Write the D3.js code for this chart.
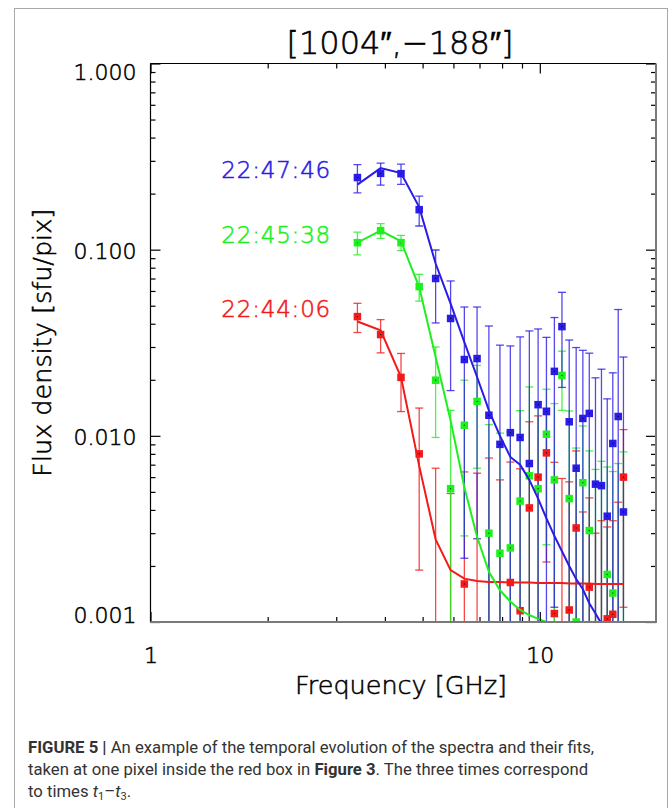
<!DOCTYPE html>
<html>
<head>
<meta charset="utf-8">
<script src="https://cdn.jsdelivr.net/npm/d3@7"></script>
<style>
  body { margin: 0; background: #fff; }
  .plot text { font-family: "DejaVu Sans", sans-serif; font-weight: 200; fill: #000; stroke: #000; stroke-width: 0.55; }
  .caption text { font-family: Roboto, "Liberation Sans", sans-serif; fill: #333; }
</style>
</head>
<body>
<div id="chart"></div>
<script>
// Channel frequencies (GHz)
const freqs = [3.4, 3.9, 4.4, 4.9, 5.4, 5.9, 6.4, 6.9, 7.4, 7.9, 8.4, 8.9, 9.4, 9.9,
    10.4, 10.9, 11.4, 11.9, 12.4, 12.9, 13.4, 13.9, 14.4, 14.9, 15.4, 15.9, 16.4];

const times = ["22:44:06", "22:45:38", "22:47:46"];
const colors = ["#f21a1a", "#1ef01e", "#2a1be6"];

// 22:44:06
const fluxRed = [0.0437, 0.035, 0.0206, 0.0080, 0.0006, 0.0006, 0.0016, 0.0006, 0.0006, 0.0006,
    0.00163, 0.00115, 0.0041, 0.0060, 0.0081, 0.00111, 0.0006, 0.00116, 0.0032, 0.0006,
    0.00154, 0.0006, 0.0006, 0.00104, 0.0011, 0.0006, 0.0060];
const errRed = [0.0078, 0.0071, 0.0071, 0.0061, 0.0061, 0.0043, 0.0048, 0.0057, 0.0070, 0.0052,
    0.0056, 0.0055, 0.0078, 0.0068, 0.0060, 0.0061, 0.0053, 0.0045, 0.0051, 0.0033,
    0.0031, 0.0024, 0.0029, 0.0022, 0.0024, 0.0038, 0.0048];
const fitRed = [0.0411, 0.0369, 0.0207, 0.0069, 0.00278, 0.0019, 0.00171, 0.00166, 0.00164, 0.00164,
    0.00163, 0.00163, 0.00163, 0.00162, 0.00162, 0.00162, 0.00162, 0.00161, 0.00161, 0.00161,
    0.00161, 0.0016, 0.0016, 0.0016, 0.0016, 0.0016, 0.0016];

// 22:45:38
const fluxGreen = [0.109, 0.1265, 0.109, 0.0633, 0.0199, 0.0052, 0.0114, 0.0153, 0.0030, 0.00234,
    0.0025, 0.00446, 0.0061, 0.0052, 0.0102, 0.0058, 0.0211, 0.0046, 0.0010, 0.0056,
    0.0031, 0.0006, 0.0006, 0.0018, 0.00143, 0.0007, 0.0008];
const errGreen = [0.0152, 0.0115, 0.0103, 0.0104, 0.0101, 0.0085, 0.0085, 0.0086, 0.0085, 0.0080,
    0.0080, 0.0092, 0.0122, 0.0100, 0.0076, 0.0091, 0.0074, 0.0090, 0.0076, 0.0057,
    0.0052, 0.0060, 0.0067, 0.0050, 0.0050, 0.0064, 0.0074];
const fitGreen = [0.1091, 0.1265, 0.1109, 0.0630, 0.0265, 0.0121, 0.0053, 0.00287, 0.00186, 0.00148,
    0.00129, 0.00116, 0.00109, 0.00104, 0.0010, 0.00097, 0.00094, 0.00091, 0.00088, 0.00085,
    0.00082, 0.0008, 0.00078, 0.00076, 0.00074, 0.00072, 0.0007];

// 22:47:46
const fluxBlue = [0.244, 0.257, 0.256, 0.164, 0.070, 0.0427, 0.0257, 0.026, 0.0129, 0.0090,
    0.0104, 0.0098, 0.0071, 0.0147, 0.0135, 0.0222, 0.0386, 0.0119, 0.0067, 0.0124,
    0.0132, 0.0055, 0.0054, 0.0037, 0.0091, 0.0127, 0.0039];
const errBlue = [0.042, 0.035, 0.032, 0.030, 0.0296, 0.0252, 0.0235, 0.0232, 0.026, 0.0217,
    0.020, 0.0242, 0.0295, 0.0228, 0.0203, 0.021, 0.0204, 0.0208, 0.0231, 0.0164,
    0.0146, 0.015, 0.0174, 0.0121, 0.0127, 0.035, 0.0226];
const fitBlue = [0.2234, 0.2742, 0.2578, 0.1693, 0.0843, 0.0513, 0.0319, 0.0207, 0.0137, 0.0100,
    0.0077, 0.0070, 0.0058, 0.0046, 0.0036, 0.0029, 0.0024, 0.0020, 0.0017, 0.0015,
    0.00126, 0.00111, 0.00098, 0.00087, 0.00077, 0.00068, 0.0006];

const xMajor = [1, 10];
const yMajor = [0.001, 0.01, 0.1, 1];

const titleText = "[1004\u2033,\u2212188\u2033]";
const xTitle = "Frequency [GHz]";
const yTitle = "Flux density [sfu/pix]";

const plot = { left: 150.5, right: 657, top: 63.5, bottom: 622 };

const svg = d3.select("#chart")
    .append("svg")
    .attr("width", 672)
    .attr("height", 808);

// Figure frame
svg.append("rect")
    .attr("x", 14.5).attr("y", 8.5)
    .attr("width", 653).attr("height", 820)
    .attr("fill", "none")
    .attr("stroke", "#a8a8a8");

const g = svg.append("g").attr("class", "plot");

// Scales
const x = d3.scaleLog().domain([1, 20]).range([plot.left, plot.right]);
const y = d3.scaleLog().domain([0.001, 1]).range([plot.bottom, plot.top]);

const xMinor = x.ticks().filter(d => !xMajor.includes(d) && d < 20);
const yMinor = y.ticks().filter(d => !yMajor.some(m => Math.abs(m - d) < 1e-9));

svg.append("clipPath").attr("id", "clip")
    .append("rect")
    .attr("x", plot.left).attr("y", plot.top)
    .attr("width", 656 - plot.left).attr("height", plot.bottom - plot.top);

const series = [
    { name: times[0], color: colors[0], flux: fluxRed, err: errRed, fit: fitRed },
    { name: times[1], color: colors[1], flux: fluxGreen, err: errGreen, fit: fitGreen },
    { name: times[2], color: colors[2], flux: fluxBlue, err: errBlue, fit: fitBlue }
];

const data = g.append("g").attr("clip-path", "url(#clip)");

// Error bars
series.forEach(s => {
    const bars = data.append("g")
        .attr("stroke", s.color)
        .attr("stroke-width", 1.3)
        .attr("stroke-opacity", 0.8);
    s.flux.forEach((v, i) => {
        const fx = x(freqs[i]);
        const hi = y(v + s.err[i]);
        const low = v - s.err[i];
        const lo = low > 0 ? y(low) : plot.bottom + 10;
        bars.append("line").attr("x1", fx).attr("x2", fx).attr("y1", hi).attr("y2", lo);
        bars.append("line").attr("x1", fx - 4).attr("x2", fx + 4).attr("y1", hi).attr("y2", hi);
        if (low > 0) {
            bars.append("line").attr("x1", fx - 4).attr("x2", fx + 4).attr("y1", lo).attr("y2", lo);
        }
    });
});

// Data squares
series.forEach(s => {
    const pts = data.append("g");
    pts.selectAll("rect.sq")
        .data(s.flux)
        .join("rect")
        .attr("class", "sq")
        .attr("x", (d, i) => x(freqs[i]) - 3.75)
        .attr("y", d => y(d) - 3.75)
        .attr("width", 7.5)
        .attr("height", 7.5)
        .attr("fill", s.color);
    pts.selectAll("rect.dot")
        .data(s.flux)
        .join("rect")
        .attr("class", "dot")
        .attr("x", (d, i) => x(freqs[i]) - 0.5)
        .attr("y", d => y(d) - 0.5)
        .attr("width", 1)
        .attr("height", 1)
        .attr("fill", "#000");
});

// Fits
const line = d3.line()
    .x((d, i) => x(freqs[i]))
    .y(d => y(d));

series.forEach(s => {
    data.append("path")
        .datum(s.fit)
        .attr("d", line)
        .attr("fill", "none")
        .attr("stroke", s.color)
        .attr("stroke-width", 2);
});

// Time labels
series.forEach(s => {
    g.append("text")
        .attr("x", 331)
        .attr("y", y(s.flux[0]))
        .attr("text-anchor", "end")
        .attr("font-size", 23)
        .attr("letter-spacing", 0.8)
        .style("fill", s.color)
        .style("stroke", s.color)
        .text(s.name);
});

// Axes
const styleAxis = sel => {
    sel.select(".domain").remove();
    sel.selectAll(".tick line").attr("stroke", "#000").attr("stroke-width", 1.2);
    sel.selectAll(".tick text").attr("font-size", 22).attr("font-family", null);
};

g.append("g")
    .attr("transform", `translate(0,${plot.bottom})`)
    .call(d3.axisBottom(x).tickValues(xMajor).tickFormat(d3.format("d"))
        .tickSize(-10).tickSizeOuter(0).tickPadding(25))
    .call(styleAxis);
g.append("g")
    .attr("transform", `translate(0,${plot.bottom})`)
    .call(d3.axisBottom(x).tickValues(xMinor).tickFormat("").tickSize(-5).tickSizeOuter(0))
    .call(styleAxis);
g.append("g")
    .attr("transform", `translate(0,${plot.top})`)
    .call(d3.axisTop(x).tickValues(xMajor).tickFormat("").tickSize(-10).tickSizeOuter(0))
    .call(styleAxis);
g.append("g")
    .attr("transform", `translate(0,${plot.top})`)
    .call(d3.axisTop(x).tickValues(xMinor).tickFormat("").tickSize(-5).tickSizeOuter(0))
    .call(styleAxis);

const yAxis = g.append("g")
    .attr("transform", `translate(${plot.left},0)`)
    .call(d3.axisLeft(y).tickValues(yMajor).tickFormat(d3.format(".3f"))
        .tickSize(-10).tickSizeOuter(0).tickPadding(14))
    .call(styleAxis);
// keep the end labels inside the axis span, as in the original
yAxis.selectAll(".tick text")
    .attr("dy", d => d === 1 ? "0.72em" : d === 0.001 ? "0em" : "0.4em");

g.append("g")
    .attr("transform", `translate(${plot.left},0)`)
    .call(d3.axisLeft(y).tickValues(yMinor).tickFormat("").tickSize(-5).tickSizeOuter(0))
    .call(styleAxis);
g.append("g")
    .attr("transform", "translate(656,0)")
    .call(d3.axisRight(y).tickValues(yMajor).tickFormat("").tickSize(-10).tickSizeOuter(0))
    .call(styleAxis);
g.append("g")
    .attr("transform", "translate(656,0)")
    .call(d3.axisRight(y).tickValues(yMinor).tickFormat("").tickSize(-5).tickSizeOuter(0))
    .call(styleAxis);

// Plot box
g.append("line").attr("x1", plot.left).attr("x2", 656).attr("y1", plot.top).attr("y2", plot.top)
    .attr("stroke", "#000").attr("stroke-width", 1.2);
g.append("line").attr("x1", plot.left).attr("x2", plot.left).attr("y1", plot.top).attr("y2", plot.bottom)
    .attr("stroke", "#000").attr("stroke-width", 1.2);
g.append("line").attr("x1", plot.left).attr("x2", 657).attr("y1", plot.bottom).attr("y2", plot.bottom)
    .attr("stroke", "#7a7a7a").attr("stroke-width", 2);
g.append("line").attr("x1", 656).attr("x2", 656).attr("y1", plot.top).attr("y2", plot.bottom)
    .attr("stroke", "#7a7a7a").attr("stroke-width", 2);

// Titles
g.append("text")
    .attr("x", 400).attr("y", 54)
    .attr("text-anchor", "middle")
    .attr("font-size", 32)
    .text(titleText);

g.append("text")
    .attr("x", 401).attr("y", 694)
    .attr("text-anchor", "middle")
    .attr("font-size", 25.5)
    .text(xTitle);

g.append("text")
    .attr("transform", `translate(51,${(plot.top + plot.bottom) / 2}) rotate(-90)`)
    .attr("text-anchor", "middle")
    .attr("font-size", 25.5)
    .text(yTitle);

// Caption
const cap = svg.append("g").attr("class", "caption").attr("font-size", 16.7);

const l1 = cap.append("text").attr("x", 28).attr("y", 753);
l1.append("tspan").attr("font-weight", "bold").text("FIGURE 5 | ");
l1.append("tspan").text("An example of the temporal evolution of the spectra and their fits,");

const l2 = cap.append("text").attr("x", 28).attr("y", 775);
l2.append("tspan").text("taken at one pixel inside the red box in ");
l2.append("tspan").attr("font-weight", "bold").text("Figure 3");
l2.append("tspan").text(". The three times correspond");

const l3 = cap.append("text").attr("x", 28).attr("y", 797);
l3.append("tspan").text("to times ");
l3.append("tspan").attr("font-style", "italic").text("t");
l3.append("tspan").attr("font-size", 11).attr("dy", 3).text("1");
l3.append("tspan").attr("dy", -3).text("\u2013");
l3.append("tspan").attr("font-style", "italic").text("t");
l3.append("tspan").attr("font-size", 11).attr("dy", 3).text("3");
l3.append("tspan").attr("dy", -3).text(".");
</script>
</body>
</html>
